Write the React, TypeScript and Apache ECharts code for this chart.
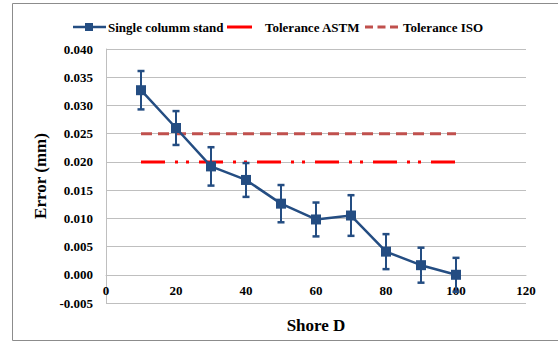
import React, { useEffect, useRef } from "react";
import * as echarts from "echarts";

const shoreD = [10, 20, 30, 40, 50, 60, 70, 80, 90, 100];
const errorMean = [0.0327, 0.026, 0.0192, 0.0168, 0.0126, 0.0098, 0.0105, 0.0041, 0.0017, 0.0];
const errorDev = [0.0034, 0.003, 0.0034, 0.003, 0.0033, 0.003, 0.0036, 0.0031, 0.0031, 0.003];
const toleranceX = [10, 100];
const toleranceASTM = [0.02, 0.02];
const toleranceISO = [0.025, 0.025];
const legendNames = ["Single columm stand", "Tolerance ASTM", "Tolerance ISO"];

const FONT = "Liberation Serif";
const BLUE = "#244D82";
const RED = "#FF0000";
const ISO = "#C0504D";

export default function App() {
  const ref = useRef<HTMLDivElement>(null);
  useEffect(() => {
    const chart = echarts.init(ref.current!, null, { renderer: "svg" });
    const lineData = shoreD.map((x, i) => [x, errorMean[i]]);
    const barData = shoreD.map((x, i) => [x, errorMean[i] - errorDev[i], errorMean[i] + errorDev[i]]);
    const legendText = (x: number, text: string) => ({
      type: "text",
      x,
      y: 27,
      style: {
        text,
        fill: "#000",
        fontFamily: FONT,
        fontWeight: "bold",
        fontSize: 13,
        verticalAlign: "middle",
      },
      silent: true,
    });
    chart.setOption({
      animation: false,
      backgroundColor: "#fff",
      textStyle: { fontFamily: FONT },
      grid: { left: 106, right: 32, top: 49, bottom: 40, containLabel: false, outerBoundsMode: "none" },
      xAxis: {
        type: "value",
        min: 0,
        max: 120,
        interval: 20,
        offset: -28,
        axisLine: { onZero: false, lineStyle: { color: "#BFBFBF" } },
        axisTick: { show: false },
        splitLine: { show: false },
        axisLabel: { fontFamily: FONT, fontWeight: "bold", fontSize: 13, color: "#000", margin: 9 },
        name: "Shore D",
        nameLocation: "middle",
        nameGap: 42,
        nameTextStyle: { fontFamily: FONT, fontWeight: "bold", fontSize: 17, color: "#000" },
      },
      yAxis: {
        type: "value",
        min: -0.005,
        max: 0.04,
        interval: 0.005,
        axisLine: { show: true, lineStyle: { color: "#BFBFBF" } },
        axisTick: { show: false },
        splitLine: { show: true, lineStyle: { color: "#BFBFBF", width: 1 } },
        axisLabel: {
          fontFamily: FONT,
          fontWeight: "bold",
          fontSize: 13,
          color: "#000",
          margin: 13,
          formatter: (v: number) => v.toFixed(3),
        },
        name: "Error (mm)",
        nameLocation: "middle",
        nameGap: 57,
        nameTextStyle: { fontFamily: FONT, fontWeight: "bold", fontSize: 17, color: "#000" },
      },
      series: [
        {
          name: legendNames[1],
          type: "line",
          data: toleranceX.map((x, i) => [x, toleranceASTM[i]]),
          symbol: "none",
          itemStyle: { color: RED },
          lineStyle: { color: RED, width: 3, type: [24, 10, 3, 8, 3, 10] },
          z: 2,
        },
        {
          name: legendNames[2],
          type: "line",
          data: toleranceX.map((x, i) => [x, toleranceISO[i]]),
          symbol: "none",
          itemStyle: { color: ISO },
          lineStyle: { color: ISO, width: 3, type: [11, 6] },
          z: 2,
        },
        {
          name: "errbars",
          type: "custom",
          data: barData,
          z: 3,
          renderItem: (params: any, api: any) => {
            const x = api.value(0);
            const top = api.coord([x, api.value(2)]);
            const bot = api.coord([x, api.value(1)]);
            const st = { stroke: BLUE, lineWidth: 2 };
            const cap = { stroke: BLUE, lineWidth: 2.5 };
            return {
              type: "group",
              children: [
                { type: "line", shape: { x1: top[0], y1: top[1], x2: bot[0], y2: bot[1] }, style: st },
                { type: "line", shape: { x1: top[0] - 3.5, y1: top[1], x2: top[0] + 3.5, y2: top[1] }, style: cap },
                { type: "line", shape: { x1: bot[0] - 3.5, y1: bot[1], x2: bot[0] + 3.5, y2: bot[1] }, style: cap },
              ],
            };
          },
        },
        {
          name: legendNames[0],
          type: "line",
          data: lineData,
          symbol: "rect",
          symbolSize: 10,
          itemStyle: { color: BLUE },
          lineStyle: { color: BLUE, width: 2.5 },
          z: 4,
        },
      ],
      graphic: [
        {
          type: "rect",
          shape: { x: 12.5, y: 3.5, width: 600, height: 337 },
          style: { fill: "none", stroke: "#8C8C8C", lineWidth: 1 },
          silent: true,
        },
        { type: "line", shape: { x1: 73, y1: 27, x2: 106, y2: 27 }, style: { stroke: BLUE, lineWidth: 2.5 }, silent: true },
        { type: "rect", shape: { x: 85, y: 23, width: 8, height: 8 }, style: { fill: BLUE }, silent: true },
        legendText(108, legendNames[0]),
        { type: "line", shape: { x1: 227, y1: 27, x2: 252, y2: 27 }, style: { stroke: RED, lineWidth: 3 }, silent: true },
        legendText(265, legendNames[1]),
        { type: "line", shape: { x1: 365, y1: 27, x2: 398, y2: 27 }, style: { stroke: ISO, lineWidth: 3, lineDash: [8, 4.5] }, silent: true },
        legendText(403, legendNames[2]),
      ],
    });
    return () => chart.dispose();
  }, []);
  return <div ref={ref} style={{ width: 558, height: 343, position: "absolute", left: 0, top: 0 }} />;
}
